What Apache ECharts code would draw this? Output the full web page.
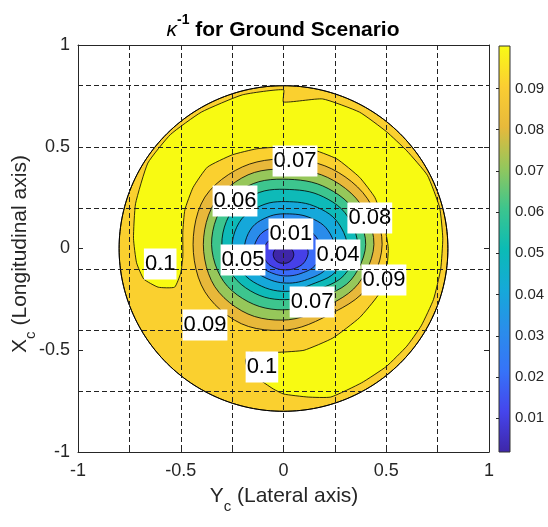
<!DOCTYPE html>
<html><head><meta charset="utf-8">
<script src="https://cdn.jsdelivr.net/npm/echarts@6/dist/echarts.min.js"></script>
<style>html,body{margin:0;padding:0;background:#fff}#c{width:548px;height:527px}</style>
</head><body><div id="c"></div><script>
// ---- data ----
const xTicks = [-1, -0.5, 0, 0.5, 1];
const cbTicks = [0.01, 0.02, 0.03, 0.04, 0.05, 0.06, 0.07, 0.08, 0.09];
const cbMin = 0.0018, cbMax = 0.1003;
const diskRadius = 0.8;
// contour levels, inner to outer
const levels = [0.01, 0.02, 0.03, 0.04, 0.05, 0.06, 0.07, 0.08, 0.09];
// fill colour of the band just below each level (inside that contour)
const bandColors = ['#3E26A8', '#4640E8', '#3A6BF8', '#2A8CEB', '#15A8DA', '#0EBAB8', '#3DC58E', '#96C75A', '#E8B83A'];
const band090 = '#FAD02F';   // 0.09 - 0.10
const band100 = '#F8FA12';   // > 0.10
// ring centres and polar radii (angles in degrees)
const angles = [0, 30, 60, 90, 120, 150, 180, 210, 240, 270, 300, 330];
const ringCX = [0.0, 0.01, 0.02, 0.03, 0.03, 0.03, 0.025, 0.025, 0.02];
const ringCY = [-0.03, -0.02, -0.01, 0.0, 0.01, 0.02, 0.02, 0.02, 0.02];
const ringR = [
  [.05, .048, .045, .043, .045, .048, .05, .048, .045, .043, .045, .048],
  [.11, .102, .09, .085, .09, .102, .11, .102, .09, .085, .09, .102],
  [.165, .152, .132, .125, .135, .155, .165, .152, .132, .125, .13, .152],
  [.22, .204, .179, .17, .185, .21, .22, .204, .18, .17, .175, .204],
  [.28, .26, .231, .22, .24, .27, .28, .262, .235, .22, .215, .255],
  [.33, .311, .282, .27, .295, .325, .33, .315, .29, .27, .26, .305],
  [.375, .359, .332, .32, .345, .372, .375, .365, .34, .32, .305, .35],
  [.415, .402, .38, .37, .395, .415, .415, .415, .395, .37, .355, .39],
  [.46, .449, .429, .42, .44, .465, .46, .465, .45, .42, .40, .44]
];
// region above 0.10 (yellow crescent), boundary points
const yellowX = [-0.53,-0.50,-0.49,-0.49,-0.48,-0.44,-0.37,-0.25,-0.13,0.0,0.13,0.26,0.37,0.445,0.49,0.51,0.50,0.46,0.37,0.24,0.10,-0.02,-0.12,-0.16,-0.185,-0.17,-0.13,-0.05,0.0,0.12,0.23,0.38,0.50,0.60,0.67,0.73,0.765,0.775,0.76,0.70,0.60,0.50,0.37,0.19,0.0,0.0,-0.20,-0.40,-0.55,-0.66,-0.72,-0.73,-0.715,-0.68,-0.61];
const yellowY = [-0.19,-0.12,-0.04,0.08,0.19,0.30,0.40,0.46,0.49,0.50,0.49,0.44,0.35,0.25,0.12,0.0,-0.12,-0.23,-0.34,-0.44,-0.50,-0.51,-0.515,-0.51,-0.55,-0.60,-0.635,-0.69,-0.715,-0.73,-0.73,-0.66,-0.58,-0.48,-0.38,-0.25,-0.10,0.05,0.20,0.36,0.48,0.575,0.67,0.735,0.72,0.78,0.755,0.67,0.56,0.42,0.22,0.05,-0.07,-0.15,-0.19];
// contour labels
const labelText = ['0.01', '0.07', '0.06', '0.08', '0.05', '0.04', '0.09', '0.07', '0.09', '0.1', '0.1'];
const labelX = [0.036, 0.056, -0.236, 0.42, -0.197, 0.265, 0.489, 0.139, -0.382, -0.60, -0.105];
const labelY = [0.071, 0.43, 0.233, 0.15, -0.057, -0.032, -0.155, -0.263, -0.376, -0.076, -0.582];
// colour bar stops
const cbStops = [0, 0.1, 0.2, 0.3, 0.4, 0.5, 0.6, 0.7, 0.8, 0.9, 1.0];
const cbColors = ['#3E26A8', '#4545EC', '#3673F8', '#2A8DEB', '#15A9D9', '#0BBBB5', '#3DC58D', '#94C75C', '#E7B93B', '#FBCE32', '#F9FB15'];

// ---- chart ----
const FONT = '"Liberation Sans", Arial, Helvetica, sans-serif';
const TXT = '#262626';
const chart = echarts.init(document.getElementById('c'), null, {renderer: 'canvas'});

function isHalf(v) { return Math.abs(v * 2 - Math.round(v * 2)) < 1e-9; }

// closed Catmull-Rom curve through pixel points (drawing only)
function closedCurve(pts, steps) {
  const n = pts.length, out = [];
  for (let i = 0; i < n; i++) {
    const p0 = pts[(i - 1 + n) % n], p1 = pts[i], p2 = pts[(i + 1) % n], p3 = pts[(i + 2) % n];
    for (let s = 0; s < steps; s++) {
      const t = s / steps, t2 = t * t, t3 = t2 * t;
      const f = (a, b, c, d) => 0.5 * ((2 * b) + (-a + c) * t + (2 * a - 5 * b + 4 * c - d) * t2 + (-a + 3 * b - 3 * c + d) * t3);
      out.push([f(p0[0], p1[0], p2[0], p3[0]), f(p0[1], p1[1], p2[1], p3[1])]);
    }
  }
  return out;
}

const option = {
  animation: false,
  backgroundColor: '#fff',
  grid: [
    {left: 78, top: 45, width: 411, height: 407},
    {left: 499, top: 46, width: 11, height: 406}
  ],
  xAxis: [
    {gridIndex: 0, type: 'value', min: -1, max: 1, interval: 0.25, position: 'bottom', z: 10,
     axisLine: {show: true, onZero: false, lineStyle: {color: TXT, width: 1}},
     axisTick: {show: true, inside: true, length: 5, lineStyle: {color: TXT}},
     axisLabel: {show: true, margin: 10, fontSize: 18, color: TXT, fontFamily: FONT,
       formatter: v => (isHalf(v) && xTicks.indexOf(Math.round(v * 2) / 2) >= 0) ? String(Math.round(v * 2) / 2) : ''},
     splitLine: {show: true, lineStyle: {color: '#222', type: [5, 3], width: 1}}},
    {gridIndex: 0, type: 'value', min: -1, max: 1, interval: 0.25, position: 'top', z: 10,
     axisLine: {show: true, onZero: false, lineStyle: {color: TXT, width: 1}},
     axisTick: {show: true, inside: true, length: 5, lineStyle: {color: TXT}},
     axisLabel: {show: false}, splitLine: {show: false}},
    {gridIndex: 1, type: 'value', min: 0, max: 1, show: false}
  ],
  yAxis: [
    {gridIndex: 0, type: 'value', min: -1, max: 1, interval: 0.5, position: 'left', z: 10,
     axisLine: {show: true, onZero: false, lineStyle: {color: TXT, width: 1}},
     axisTick: {show: true, inside: true, length: 5, lineStyle: {color: TXT}},
     axisLabel: {show: true, margin: 8, fontSize: 18, color: TXT, fontFamily: FONT},
     splitLine: {show: false}},
    {gridIndex: 0, type: 'value', min: -1, max: 1, interval: 0.5, position: 'right', z: 10,
     axisLine: {show: true, onZero: false, lineStyle: {color: TXT, width: 1}},
     axisTick: {show: true, inside: true, length: 5, lineStyle: {color: TXT}},
     axisLabel: {show: false}, splitLine: {show: false}},
    {gridIndex: 0, type: 'value', min: -1, max: 1, interval: 0.3, position: 'left', z: 10,
     axisLine: {show: false}, axisTick: {show: false}, axisLabel: {show: false},
     splitLine: {show: true, lineStyle: {color: '#222', type: [5, 3], width: 1}}},
    {gridIndex: 1, type: 'value', min: cbMin, max: cbMax, position: 'right', z: 10,
     axisLine: {show: false},
     axisTick: {show: true, inside: true, length: 3, customValues: cbTicks, lineStyle: {color: TXT}},
     axisLabel: {show: true, margin: 5, fontSize: 15, color: TXT, fontFamily: FONT, customValues: cbTicks},
     splitLine: {show: false}}
  ],
  series: [
    { // disk (0.09-0.10 band)
      type: 'custom', coordinateSystem: 'cartesian2d', xAxisIndex: 0, yAxisIndex: 0, data: [[0, 0]],
      renderItem: (p, api) => {
        const pts = [];
        for (let k = 0; k < 240; k++) { const a = k / 240 * 2 * Math.PI; pts.push(api.coord([diskRadius * Math.cos(a), diskRadius * Math.sin(a)])); }
        return {type: 'polygon', shape: {points: pts}, style: {fill: band090, stroke: '#000', lineWidth: 0.8}};
      }
    },
    { // region above 0.10
      type: 'custom', coordinateSystem: 'cartesian2d', xAxisIndex: 0, yAxisIndex: 0, data: [[0, 0]],
      renderItem: (p, api) => {
        const pts = yellowX.map((x, i) => api.coord([x, yellowY[i]]));
        return {type: 'polygon', shape: {points: pts, smooth: 0.15}, style: {fill: band100, stroke: '#000', lineWidth: 0.8}};
      }
    },
    { // rings 0.09 ... 0.01
      type: 'custom', coordinateSystem: 'cartesian2d', xAxisIndex: 0, yAxisIndex: 0,
      data: levels.map((l, i) => [i, 0]),
      renderItem: (p, api) => {
        const i = levels.length - 1 - p.dataIndex;
        const pts = angles.map((a, k) => {
          const t = a * Math.PI / 180;
          return api.coord([ringCX[i] + ringR[i][k] * Math.cos(t), ringCY[i] + ringR[i][k] * Math.sin(t)]);
        });
        return {type: 'polygon', shape: {points: closedCurve(pts, 6)}, style: {fill: bandColors[i], stroke: '#000', lineWidth: 0.8}};
      }
    },
    { // disk outline on top
      type: 'custom', coordinateSystem: 'cartesian2d', xAxisIndex: 0, yAxisIndex: 0, data: [[0, 0]],
      renderItem: (p, api) => {
        const pts = [];
        for (let k = 0; k < 240; k++) { const a = k / 240 * 2 * Math.PI; pts.push(api.coord([diskRadius * Math.cos(a), diskRadius * Math.sin(a)])); }
        return {type: 'polygon', shape: {points: pts}, style: {fill: 'none', stroke: '#000', lineWidth: 1}};
      }
    },
    { // contour labels
      type: 'custom', coordinateSystem: 'cartesian2d', xAxisIndex: 0, yAxisIndex: 0,
      data: labelText.map((t, i) => [labelX[i], labelY[i]]),
      renderItem: (p, api) => {
        const c = api.coord([labelX[p.dataIndex], labelY[p.dataIndex]]);
        return {type: 'text', x: c[0], y: c[1], style: {text: labelText[p.dataIndex], fontSize: 22, fontFamily: FONT, fill: '#000',
          align: 'center', verticalAlign: 'middle', backgroundColor: '#fff', padding: [5, 1, 4, 1]}};
      }
    },
    { // colour bar
      type: 'custom', coordinateSystem: 'cartesian2d', xAxisIndex: 2, yAxisIndex: 3, data: [[0, cbMin]],
      renderItem: (p, api) => {
        const a = api.coord([0, cbMax]), b = api.coord([1, cbMin]);
        return {type: 'rect', shape: {x: a[0], y: a[1], width: b[0] - a[0], height: b[1] - a[1]},
          style: {fill: {type: 'linear', x: 0, y: 1, x2: 0, y2: 0, colorStops: cbStops.map((s, i) => ({offset: s, color: cbColors[i]}))},
                  stroke: '#333', lineWidth: 1}};
      }
    }
  ],
  graphic: [
    {type: 'text', x: 283, y: 27, z: 20, style: {
      text: '{k|κ}{s|-1}{b| for Ground Scenario}', align: 'center', verticalAlign: 'middle',
      rich: {k: {fontSize: 21, fontStyle: 'italic', fontFamily: FONT, fill: '#000', lineHeight: 28, verticalAlign: 'bottom'},
             s: {fontSize: 14, fontWeight: 'bold', fontFamily: FONT, fill: '#000', lineHeight: 14, verticalAlign: 'top'},
             b: {fontSize: 21, fontWeight: 'bold', fontFamily: FONT, fill: '#000', lineHeight: 28, verticalAlign: 'bottom'}}}},
    {type: 'text', x: 284, y: 500, z: 20, style: {
      text: '{a|Y}{s|c}{a| (Lateral axis)}', align: 'center', verticalAlign: 'middle',
      rich: {a: {fontSize: 21, fontFamily: FONT, fill: TXT, lineHeight: 28, verticalAlign: 'top'},
             s: {fontSize: 15, fontFamily: FONT, fill: TXT, lineHeight: 15, verticalAlign: 'bottom'}}}},
    {type: 'text', x: 24, y: 254, z: 20, rotation: Math.PI / 2, style: {
      text: '{a|X}{s|c}{a| (Longitudinal axis)}', align: 'center', verticalAlign: 'middle',
      rich: {a: {fontSize: 21, fontFamily: FONT, fill: TXT, lineHeight: 28, verticalAlign: 'top'},
             s: {fontSize: 15, fontFamily: FONT, fill: TXT, lineHeight: 15, verticalAlign: 'bottom'}}}}
  ]
};
chart.setOption(option);
</script></body></html>
